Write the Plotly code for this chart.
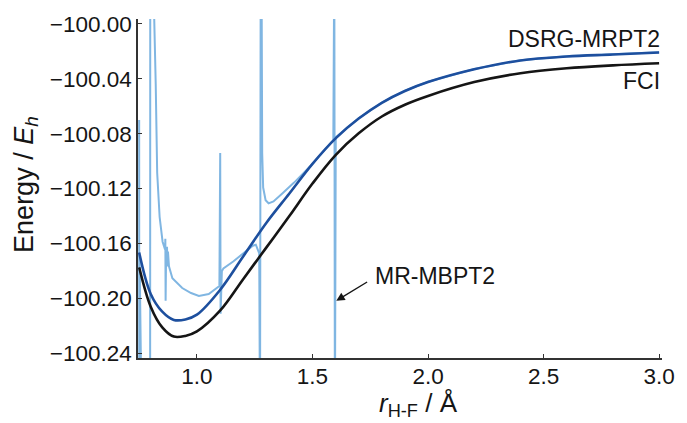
import plotly.graph_objects as go

# H-F bond length grid (Angstrom) for the smooth curves
r_grid = [0.75, 0.80, 0.85, 0.90, 0.95, 1.00, 1.10, 1.20, 1.30, 1.40, 1.50,
          1.60, 1.70, 1.80, 1.90, 2.00, 2.20, 2.40, 2.60, 2.80, 3.00]

# Full CI potential energy curve (Eh)
e_fci = [-100.1775, -100.2062, -100.2213, -100.2280, -100.2275, -100.2242,
         -100.2091, -100.1861, -100.1631, -100.1401, -100.1164, -100.0956,
         -100.0798, -100.0675, -100.0589, -100.0525, -100.0424, -100.0359,
         -100.0323, -100.0302, -100.0287]

# DSRG-MRPT2 potential energy curve (Eh)
e_dsrg = [-100.1667, -100.1969, -100.2098, -100.2158, -100.2155, -100.2120,
          -100.1940, -100.1696, -100.1451, -100.1236, -100.1020, -100.0834,
          -100.0690, -100.0575, -100.0489, -100.0424, -100.0331, -100.0266,
          -100.0237, -100.0223, -100.0208]

# MR-MBPT2 curve, with intruder-state singularities (values beyond the axis are clipped)
r_mbpt = [0.7500, 0.7505, 0.7520, 0.7586, 0.7800, 0.7975, 0.7980, 0.8089,
          0.8174, 0.8217, 0.8280, 0.8386, 0.8514, 0.8620, 0.8633, 0.8645,
          0.8665, 0.8705, 0.8726, 0.8747, 0.8790, 0.8938, 0.9363, 0.9745,
          1.0085, 1.0510, 1.0849, 1.0973, 1.1007, 1.1024, 1.1079, 1.1146,
          1.1571, 1.1996, 1.2420, 1.2548, 1.2696, 1.2730, 1.2760, 1.2794,
          1.2824, 1.2866, 1.2972, 1.3100, 1.3312, 1.3694, 1.4204, 1.4883,
          1.5605, 1.5902, 1.5945, 1.5970, 1.6008, 1.7000, 1.8000, 1.9000,
          2.0000, 2.2000, 2.4000, 2.6000, 2.8000, 3.0000]
e_mbpt = [-100.0700, -100.3200, -100.1700, -100.2600, -100.3200, -100.3000,
          -99.9500, -99.9500, -100.0007, -100.0438, -100.1085, -100.1408,
          -100.1588, -100.1645, -100.1566, -100.2019, -100.1696, -100.1624,
          -100.1768, -100.1660, -100.1768, -100.1854, -100.1926, -100.1962,
          -100.1983, -100.1969, -100.1926, -100.1911, -100.0941, -100.2113,
          -100.1804, -100.1782, -100.1732, -100.1674, -100.1617, -100.1610,
          -100.1674, -100.3000, -99.9500, -99.9500, -100.0941, -100.1193,
          -100.1286, -100.1308, -100.1294, -100.1236, -100.1157, -100.1042,
          -100.0905, -100.0848, -99.9500, -100.3000, -100.0826, -100.0688,
          -100.0573, -100.0487, -100.0422, -100.0329, -100.0264, -100.0235,
          -100.0221, -100.0206]

x_ticks = [1.0, 1.5, 2.0, 2.5, 3.0]
y_ticks = [-100.00, -100.04, -100.08, -100.12, -100.16, -100.20, -100.24]

FONT = "Liberation Sans, Arial, Helvetica, sans-serif"
INK = "#151515"

fig = go.Figure()
fig.add_trace(go.Scatter(x=r_mbpt, y=e_mbpt, mode="lines",
                         line=dict(color="#80b6e2", width=2.0),
                         name="MR-MBPT2", showlegend=False))
fig.add_trace(go.Scatter(x=r_grid, y=e_fci, mode="lines",
                         line=dict(color=INK, width=2.6, shape="spline"),
                         name="FCI", showlegend=False))
fig.add_trace(go.Scatter(x=r_grid, y=e_dsrg, mode="lines",
                         line=dict(color="#1d4f9e", width=2.6, shape="spline"),
                         name="DSRG-MRPT2", showlegend=False))

axis_common = dict(showgrid=False, zeroline=False, showline=True,
                   linecolor="#333333", linewidth=1.5, ticks="inside",
                   ticklen=4, tickwidth=1.2, tickcolor="#333333",
                   tickfont=dict(family=FONT, size=22.5, color=INK))

fig.update_xaxes(range=[0.745, 3.0125], tickvals=x_ticks, tickformat=".1f",
                 ticklabelstandoff=-3, **axis_common)
fig.update_yaxes(range=[-100.2436, -99.9964], tickvals=y_ticks, tickformat=".2f",
                 **axis_common)

annotations = [
    dict(x=3.012, y=-100.0108, xref="x", yref="y", text="DSRG-MRPT2",
         showarrow=False, xanchor="right", yanchor="middle",
         font=dict(family=FONT, size=23, color=INK)),
    dict(x=3.012, y=-100.0413, xref="x", yref="y", text="FCI",
         showarrow=False, xanchor="right", yanchor="middle",
         font=dict(family=FONT, size=23, color=INK)),
    dict(x=1.764, y=-100.184, xref="x", yref="y", text="MR-MBPT2",
         showarrow=False, xanchor="left", yanchor="middle",
         font=dict(family=FONT, size=23, color=INK)),
    dict(x=1.603, y=-100.2019, xref="x", yref="y", ax=1.743, ay=-100.1875,
         axref="x", ayref="y", text="", showarrow=True, arrowhead=2,
         arrowsize=1.2, arrowwidth=1.4, arrowcolor=INK),
    dict(x=-0.215, y=0.5116, xref="paper", yref="paper",
         text="Energy / <i>E</i><sub><i>h</i></sub>", textangle=-90,
         showarrow=False, xanchor="center", yanchor="middle",
         font=dict(family=FONT, size=27, color=INK)),
    dict(x=0.5346, y=-0.136, xref="paper", yref="paper",
         text="<i>r</i><sub>H-F</sub> / Å",
         showarrow=False, xanchor="center", yanchor="middle",
         font=dict(family=FONT, size=26, color=INK)),
]

fig.update_layout(width=687, height=423,
                  margin=dict(l=138, r=14, t=14, b=65),
                  paper_bgcolor="white", plot_bgcolor="white",
                  annotations=annotations)

fig.write_html("out.html")
